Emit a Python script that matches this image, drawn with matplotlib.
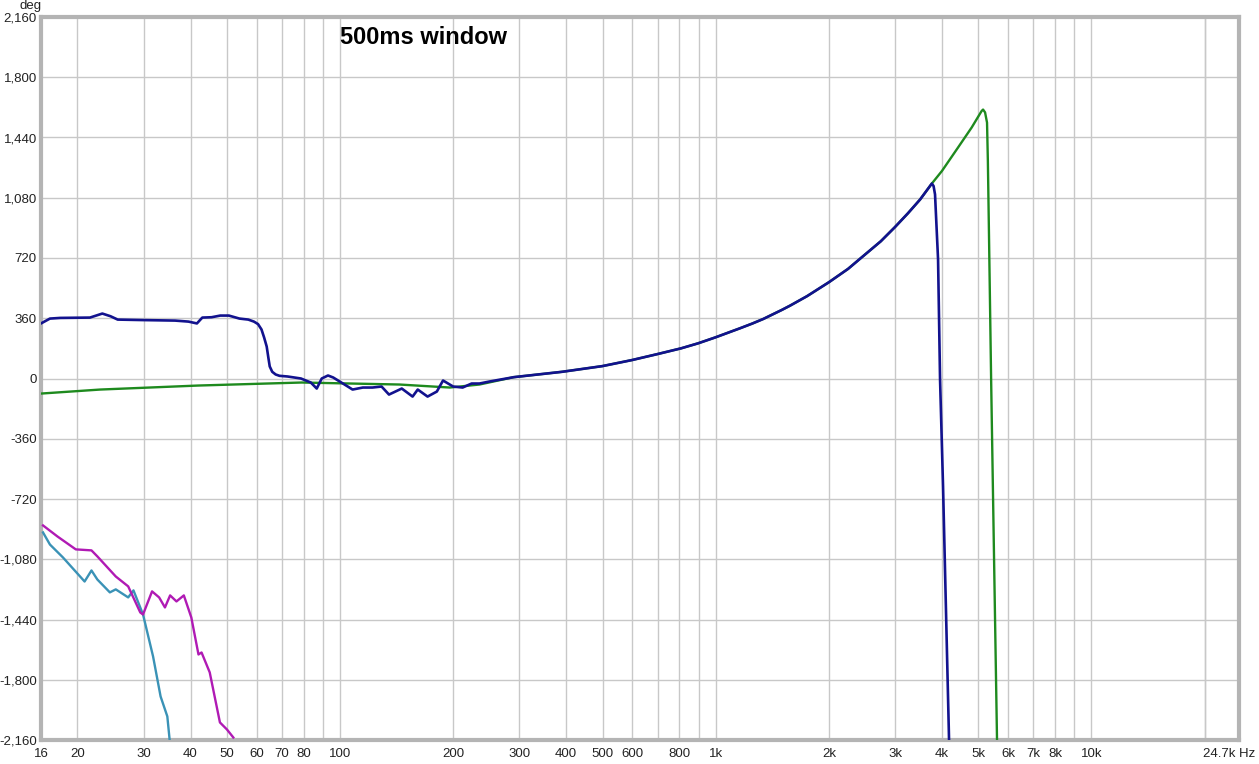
import numpy as np
import matplotlib.pyplot as plt
from matplotlib.ticker import FixedLocator, NullFormatter
from matplotlib.transforms import ScaledTranslation

plt.rcParams['font.family'] = ['Liberation Sans', 'DejaVu Sans']

# blue trace: low end, noisy middle, shared rise and the drop
blue_f = [16, 16.9, 18, 21.6, 23.3, 24.5, 25.6, 30, 36.4, 39.5, 41.6, 43, 45.5, 48, 50.6, 54,
          57, 59, 60.5, 61.8, 62.8, 63.8, 64.5, 65, 66, 67.4, 69, 72.5, 78.7, 83.6, 86.7,
          89.4, 92.9, 95.9, 101.8, 108, 115, 122, 129, 135, 146, 156, 161, 171, 181, 188,
          200, 212, 224, 235, 250]
blue_deg = [329, 358, 362, 364, 388, 372, 352, 349, 346, 340, 329, 364, 366, 376, 376, 358,
            352, 340, 325, 293, 245, 191, 120, 72, 40, 24, 16, 12, 0, -24, -60,
            0, 18, 6, -30, -66, -54, -54, -48, -96, -60, -108, -66, -108, -78, -12,
            -48, -54, -30, -30, -18]

rise_f = [290, 390, 499, 598, 697, 808, 897, 996, 1160, 1250, 1339, 1500, 1576, 1750, 2000,
          2250, 2420, 2750, 3000, 3250, 3500, 3760]
rise_deg = [8, 40, 74, 110, 145, 180, 210, 245, 300, 328, 356, 410, 435, 492, 575,
            655, 715, 820, 905, 988, 1070, 1165]

drop_f = [3800, 3834, 3906, 3954, 4027, 4178]
drop_deg = [1150, 1100, 711, -6, -645, -2160]

# green trace: low end, shared rise, peak and drop
green_f = [16, 23, 42, 79, 144, 196, 235]
green_deg = [-90, -66, -42, -24, -36, -54, -36]
green_top_f = [4000, 4414, 4800, 5100, 5146, 5210, 5273, 5300, 5339, 5407, 5606]
green_top_deg = [1240, 1380, 1500, 1598, 1607, 1590, 1529, 1300, 830, -6, -2160]

# magenta and teal traces at the low end
mag_f = [16.2, 17.7, 19.8, 21.8, 22.6, 25.3, 27.3, 29.4, 29.9, 31.6, 33, 34.2, 35.3, 36.7,
         38.4, 40.2, 42, 42.8, 45, 47.9, 50, 52]
mag_deg = [-878, -944, -1021, -1027, -1063, -1183, -1242, -1398, -1410, -1272, -1308, -1368,
           -1296, -1332, -1296, -1428, -1649, -1637, -1756, -2055, -2097, -2145]
teal_f = [16.2, 16.9, 18.3, 20.9, 21.8, 22.6, 24.4, 25.3, 27.3, 28.2, 29.9, 31.8, 33.3, 34.7, 35.2]
teal_deg = [-920, -992, -1069, -1213, -1147, -1201, -1278, -1260, -1308, -1266, -1410, -1661,
            -1900, -2019, -2160]

x_ticks = [16, 20, 30, 40, 50, 60, 70, 80, 100, 200, 300, 400, 500, 600, 800,
           1000, 2000, 3000, 4000, 5000, 6000, 7000, 8000, 10000, 24700]
x_labels = ['16', '20', '30', '40', '50', '60', '70', '80', '100', '200', '300', '400', '500',
            '600', '800', '1k', '2k', '3k', '4k', '5k', '6k', '7k', '8k', '10k', '24.7k Hz']
y_ticks = list(range(-2160, 2161, 360))

fig = plt.figure(figsize=(12.59, 7.64), dpi=100)
ax = fig.add_axes([41 / 1259, 24 / 764, 1198 / 1259, 723 / 764])

ax.plot(green_f + rise_f + green_top_f, green_deg + rise_deg + green_top_deg,
        color='#1e8a1e', lw=1.7, zorder=3, solid_joinstyle='round')
ax.plot(blue_f + rise_f + drop_f, blue_deg + rise_deg + drop_deg,
        color='#12128e', lw=1.9, zorder=4, solid_joinstyle='round')
ax.plot(teal_f, teal_deg, color='#3a92b6', lw=1.7, zorder=3, solid_joinstyle='round')
ax.plot(mag_f, mag_deg, color='#b01ab4', lw=1.7, zorder=3, solid_joinstyle='round')

ax.set_xscale('log')
ax.set_xlim(16, 24700)
ax.set_ylim(-2160, 2160)

grid_x = [v * m for m in (10, 100, 1000, 10000) for v in range(1, 10)]
grid_x = [g for g in grid_x if 16 < g < 24700] + [20000]
for g in grid_x:
    ax.axvline(g, color='#c8c8c8', lw=1, zorder=1)
for y in y_ticks[1:-1]:
    ax.axhline(y, color='#c8c8c8', lw=1, zorder=1)

ax.xaxis.set_major_locator(FixedLocator(x_ticks))
ax.set_xticklabels(x_labels)
ax.xaxis.set_minor_formatter(NullFormatter())
ax.xaxis.set_minor_locator(FixedLocator([]))
ax.set_yticks(y_ticks)
ax.set_yticklabels([f'{v:,}' for v in y_ticks])
ax.tick_params(length=0, labelsize=9.5, colors='#222222')
ax.tick_params(axis='x', pad=6)
ax.tick_params(axis='y', pad=3)

last = ax.get_xticklabels()[-1]
last.set_ha('right')
last.set_transform(last.get_transform() + ScaledTranslation(16 / 100, 0, fig.dpi_scale_trans))

for s in ax.spines.values():
    s.set_color('#b4b4b4')
    s.set_linewidth(3)

ax.text(100, 2040, '500ms window', fontsize=17, fontweight='bold', ha='left', va='center')
fig.text(20 / 1259, 1 - 6 / 764, 'deg', fontsize=9.5, ha='left', va='center', color='#222222')

fig.savefig('out.png', dpi=100)
